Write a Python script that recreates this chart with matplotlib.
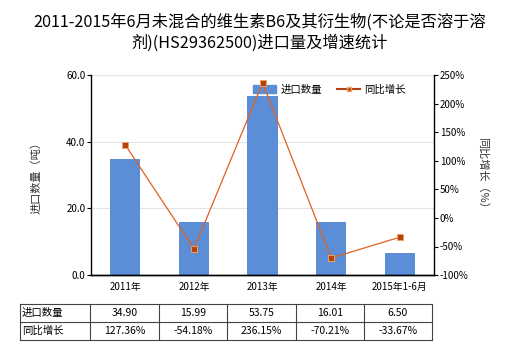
import matplotlib
matplotlib.use("Agg")
import matplotlib.pyplot as plt
from matplotlib.lines import Line2D

plt.rcParams['font.family'] = ['Noto Sans CJK SC', 'DejaVu Sans']

CATS = ["2011年", "2012年", "2013年", "2014年", "2015年1-6月"]
QTY = [34.90, 15.99, 53.75, 16.01, 6.50]
GROWTH = [127.36, -54.18, 236.15, -70.21, -33.67]
TITLE = "2011-2015年6月未混合的维生素B6及其衍生物(不论是否溶于溶\n剂)(HS29362500)进口量及增速统计"

BAR_C = "#5b8ed6"
LINE_C = "#e2601e"
DARK_C = "#b3420f"

fig = plt.figure(figsize=(5.2, 3.5), dpi=100)
ax = fig.add_axes([0.175, 0.214, 0.66, 0.572])
ax2 = ax.twinx()

x = list(range(len(CATS)))
ax.bar(x, QTY, width=0.44, color=BAR_C, zorder=2)
ax.set_xlim(-0.5, len(CATS) - 0.5)
ax.set_ylim(0, 60)
ax.set_yticks([0, 20, 40, 60])
ax.set_yticklabels([f"{v:.1f}" for v in [0, 20, 40, 60]])
ax.set_xticks(x)
ax.set_xticklabels(CATS)
ax.grid(axis="y", color="#e4e4e4", lw=0.8, zorder=0)
ax.set_ylabel("进口数量（吨）", fontsize=8, color="#333333", labelpad=18)

ax2.plot(x, GROWTH, color=LINE_C, lw=0.9, marker="s", ms=4.5,
         mfc=DARK_C, mec="#f0a060", mew=0.7, zorder=3)
ax2.set_ylim(-100, 250)
ax2.set_yticks(range(-100, 251, 50))
ax2.set_yticklabels([f"{v}%" for v in range(-100, 251, 50)])
ax2.set_ylabel("同比增长（%）", fontsize=8, color="#333333", rotation=270, labelpad=14)

for a in (ax, ax2):
    a.tick_params(labelsize=7, length=3, width=0.8, colors="black", pad=1)
    a.spines["top"].set_visible(False)
    for s in ("left", "right", "bottom"):
        a.spines[s].set_linewidth(1)
ax.spines["right"].set_visible(False)
ax2.spines["left"].set_visible(False)
ax.tick_params(axis="x", length=0, pad=5)

# legend
handles = [plt.Rectangle((0, 0), 1, 1, color=BAR_C),
           Line2D([], [], color=DARK_C, lw=1.5, marker="s", ms=3.5, mfc=DARK_C, mec="#f0a060")]
ax.legend(handles, ["进口数量", "同比增长"], loc="upper right", bbox_to_anchor=(0.945, 1.0),
          ncol=2, frameon=False, fontsize=7.5, handlelength=2.2, handleheight=0.9,
          columnspacing=1.5, handletextpad=0.4)

fig.text(0.5, 1 - 33 / 350, TITLE, fontsize=11.7, ha="center", va="center",
         linespacing=1.25)

# data table under the chart
px = lambda v: v / 520
py = lambda v: 1 - v / 350
col_edges = [20, 90] + [91 + 68.2 * (i + 1) for i in range(len(CATS))]
row_edges = [304, 322, 340]
lc = "#444444"
for yy in row_edges:
    fig.add_artist(Line2D([px(20), px(col_edges[-1])], [py(yy), py(yy)], color=lc, lw=0.8))
for xx in col_edges:
    fig.add_artist(Line2D([px(xx), px(xx)], [py(304), py(340)], color=lc, lw=0.8))
rows = [("进口数量", [f"{v:.2f}" for v in QTY]),
        ("同比增长", [f"{v:.2f}%" for v in GROWTH])]
for r, (name, vals) in enumerate(rows):
    yc = (row_edges[r] + row_edges[r + 1]) / 2
    fig.text(px(22), py(yc), name, fontsize=7.5, ha="left", va="center")
    for i, s in enumerate(vals):
        xc = (col_edges[i + 1] + col_edges[i + 2]) / 2
        fig.text(px(xc), py(yc), s, fontsize=7.5, ha="center", va="center")

fig.savefig("out.png", dpi=100)
